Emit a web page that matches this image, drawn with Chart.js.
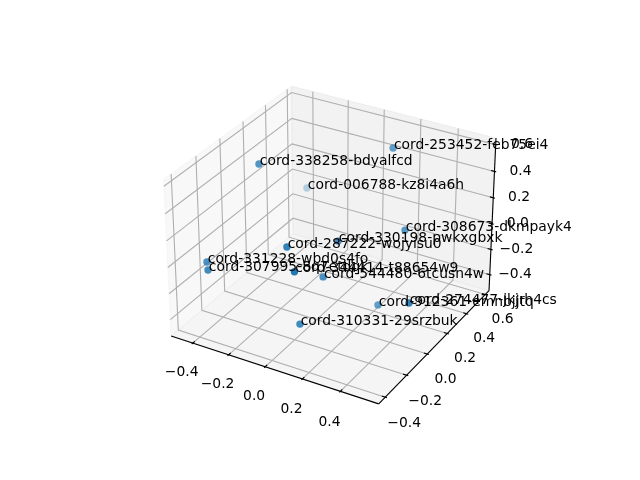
<!DOCTYPE html>
<html><head><meta charset="utf-8"><style>html,body{margin:0;background:#fff}canvas{display:block}</style>
<script src="https://cdn.jsdelivr.net/npm/chart.js@4/dist/chart.umd.min.js"></script></head>
<body><div style="width:640px;height:480px"><canvas id="c" width="640" height="480"></canvas></div>
<script>
const labels=["cord-253452-feb75ei4","cord-338258-bdyalfcd","cord-006788-kz8i4a6h","cord-308673-dkmpayk4","cord-330198-pwkxgbxk","cord-287222-wojyisu0","cord-331228-wbd0s4fo","cord-307995-8q7etdqk","cord-344414-t88654w9","cord-544480-6tcusn4w","cord-912361-emnbjjtq","cord-274477-jkjrh4cs","cord-310331-29srzbuk"];
const xs=[0.178,-0.297,-0.381,0.356,0.167,0.007,-0.369,-0.317,0.131,0.114,0.301,0.552,0.111];
const ys=[0.408,-0.017,0.547,0.210,-0.084,-0.269,-0.364,-0.433,-0.407,-0.129,0.059,-0.105,-0.332];
const zs=[0.571,0.554,-0.036,0.158,0.209,0.233,0.035,0.048,0.204,-0.049,-0.326,-0.076,-0.253];
const xLim=[-0.5,0.576],yLim=[-0.438,0.618],zLim=[-0.505,0.625];
const xTicks=[-0.4,-0.2,0,0.2,0.4],yTicks=[-0.4,-0.2,0,0.2,0.4,0.6],zTicks=[-0.4,-0.2,0,0.2,0.4,0.6];
const K=1.8294640721620434/Math.hypot(4,4,3),box=[4*K,4*K,3*K],R=box.map(b=>b/2),dist=10;
const el=30*Math.PI/180,az=-60*Math.PI/180;
const w=[Math.cos(el)*Math.cos(az),Math.cos(el)*Math.sin(az),Math.sin(el)];
const n=Math.hypot(w[0],w[1]),u=[-w[1]/n,w[0]/n,0];
const v=[w[1]*u[2]-w[2]*u[1],w[2]*u[0]-w[0]*u[2],w[0]*u[1]-w[1]*u[0]];
const eye=R.map((r,i)=>r+dist*w[i]);
const dot=(a,b)=>a[0]*b[0]+a[1]*b[1]+a[2]*b[2];
const lims=[xLim,yLim,zLim];
function proj(P){const b=P.map((p,i)=>(p-lims[i][0])/(lims[i][1]-lims[i][0])*box[i]);const r=b.map((q,i)=>q-eye[i]);const zv=dot(w,r);return {x:dot(u,r)/-zv,y:dot(v,r)/-zv,zv};}
const pad=a=>{const s=(a[1]-a[0])/48;return [a[0]-s,a[1]+s];};
const X=pad(xLim),Y=pad(yLim),Z=pad(zLim);
const dsets=[];
function line(pts,color,width,order,fill){dsets.push({type:'line',data:pts.map(proj),borderColor:color,borderWidth:width,pointRadius:0,fill:fill?'shape':false,backgroundColor:fill||undefined,order,parsing:false,clip:false,tension:0,borderCapStyle:'butt'});}
line([[X[0],Y[0],Z[0]],[X[0],Y[1],Z[0]],[X[0],Y[1],Z[1]],[X[0],Y[0],Z[1]],[X[0],Y[0],Z[0]]],'rgba(242,242,242,.5)',1.11,9,'rgba(242,242,242,.5)');
line([[X[0],Y[1],Z[0]],[X[1],Y[1],Z[0]],[X[1],Y[1],Z[1]],[X[0],Y[1],Z[1]],[X[0],Y[1],Z[0]]],'rgba(230,230,230,.5)',1.11,8,'rgba(230,230,230,.5)');
line([[X[0],Y[0],Z[0]],[X[1],Y[0],Z[0]],[X[1],Y[1],Z[0]],[X[0],Y[1],Z[0]],[X[0],Y[0],Z[0]]],'rgba(236,236,236,.5)',1.11,7,'rgba(236,236,236,.5)');
const grid='#b0b0b0';
xTicks.forEach(t=>line([[t,Y[0],Z[0]],[t,Y[1],Z[0]],[t,Y[1],Z[1]]],grid,1.11,5));
yTicks.forEach(t=>line([[X[1],t,Z[0]],[X[0],t,Z[0]],[X[0],t,Z[1]]],grid,1.11,5));
zTicks.forEach(t=>line([[X[0],Y[0],t],[X[0],Y[1],t],[X[1],Y[1],t]],grid,1.11,5));
line([[X[0],Y[0],Z[0]],[X[1],Y[0],Z[0]]],'#000',1.11,4);
line([[X[1],Y[0],Z[0]],[X[1],Y[1],Z[0]]],'#000',1.11,4);
line([[X[1],Y[1],Z[0]],[X[1],Y[1],Z[1]]],'#000',1.11,4);
const dx=(xLim[1]-xLim[0])/12,dy=(yLim[1]-yLim[0])/12,dz=(zLim[1]-zLim[0])/12;
xTicks.forEach(t=>line([[t,Y[0]+.2*dy,Z[0]],[t,Y[0]-.1*dy,Z[0]]],'#000',1.11,3));
yTicks.forEach(t=>line([[X[1]-.2*dx,t,Z[0]],[X[1]+.1*dx,t,Z[0]]],'#000',1.11,3));
zTicks.forEach(t=>line([[X[1]-.2*dx,Y[1],t],[X[1]+.1*dx,Y[1],t]],'#000',1.11,3));
// data points, painted far to near with matplotlib's depth shading
const pts=xs.map((x,i)=>({...proj([x,ys[i],zs[i]]),i}));
const zvs=pts.map(p=>p.zv),zMin=Math.min(...zvs),zMax=Math.max(...zvs);
pts.sort((a,b)=>a.zv-b.zv);
const cols=pts.map(p=>`rgba(31,119,180,${(1-(zMax-p.zv)/(zMax-zMin)*0.7).toFixed(3)})`);
dsets.push({type:'scatter',data:pts,parsing:false,clip:false,order:0,pointRadius:3.7,pointBorderWidth:0,pointBackgroundColor:cols,pointBorderColor:cols,showLine:false});
const fx=1.3,fy=1.3,fz=1.03;
const fmt=t=>(t<0?'\u2212':'')+Math.abs(t).toFixed(1);
const tl=[];
xTicks.forEach(t=>tl.push([fmt(t),proj([t,Y[0]-fx*dy,Z[0]-fx*dz]),2,2]));
yTicks.forEach(t=>tl.push([fmt(t),proj([X[1]+fy*dx,t,Z[0]-fy*dz]),-3.5,3]));
zTicks.forEach(t=>tl.push([fmt(t),proj([X[1]+fz*dx,Y[1]+fz*dy,t]),0,3.5]));
const plugin={id:'txt',afterDatasetsDraw(c){const g=c.ctx,sx=c.scales.x,sy=c.scales.y;g.save();g.fillStyle='#000';g.font='13.89px "DejaVu Sans"';g.textAlign='center';g.textBaseline='middle';
tl.forEach(([s,p,ox,oy])=>g.fillText(s,sx.getPixelForValue(p.x)+ox,sy.getPixelForValue(p.y)+oy));
g.textAlign='left';g.textBaseline='alphabetic';
labels.forEach((s,i)=>{const p=proj([xs[i],ys[i],zs[i]]);g.fillText(s,sx.getPixelForValue(p.x)+0.8,sy.getPixelForValue(p.y)+0.6);});
g.restore();}};
new Chart(document.getElementById('c'),{data:{datasets:dsets},plugins:[plugin],options:{responsive:false,animation:false,devicePixelRatio:1,layout:{padding:{left:143.2,right:127.2,top:57.6,bottom:52.8}},plugins:{legend:{display:false},tooltip:{enabled:false}},
scales:{x:{type:'linear',display:false,min:-0.095,max:0.09},y:{type:'linear',display:false,min:-0.095,max:0.09}}}});
</script></body></html>
